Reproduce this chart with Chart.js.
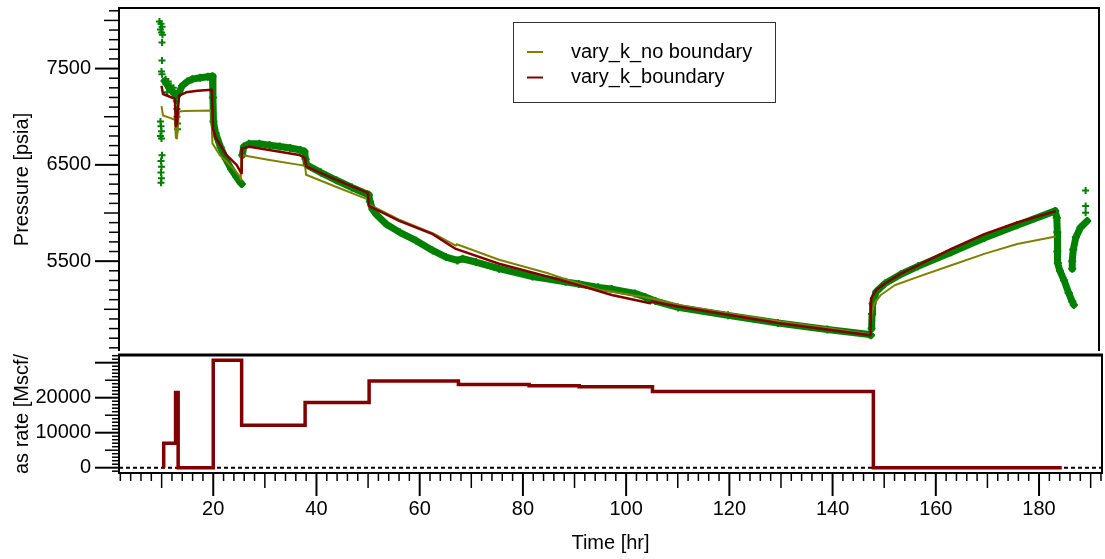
<!DOCTYPE html>
<html>
<head>
<meta charset="utf-8">
<script src="https://cdn.jsdelivr.net/npm/chart.js@4.4.1/dist/chart.umd.min.js"></script>
<style>
  html, body { margin: 0; padding: 0; background: #fff; }
  #wrap { position: relative; width: 1105px; height: 559px; overflow: hidden; }
  #top { position: absolute; left: 0; top: 0; }
  #bot { position: absolute; left: 0; top: 350px; }
</style>
</head>
<body>
<div id="wrap">
  <canvas id="top" width="1105" height="357"></canvas>
  <canvas id="bot" width="1105" height="209"></canvas>
</div>
<script>
// tick labels
const xTicks = [20, 40, 60, 80, 100, 120, 140, 160, 180];
const pressureTicks = [5500, 6500, 7500];
const rateTicks = [0, 10000, 20000];

// measured pressure, main trace (null = gap)
const measTime = [10.6, 11.0, 11.5, 12.0, 12.5, 12.8, 13.2, 14.0, 15.0, 16.0, 17.5, 19.0, 19.9, 20.0, 20.1, 20.5, 21.5, 22.5, 23.5, 24.5, 25.3, 25.6, null,
  25.7, 26.0, 27.0, 29.0, 31.0, 33.0, 35.0, 37.0, 37.8, 38.0, 38.2, 41.0, 44.0, 47.0, 50.0, 50.3, 50.5, 51.0, 51.7, 53.7, 56.3, 59.5, 62.7, 65.3, 67.5, 68.5, 71.1, 75.6,
  82.1, 88.5, 91.1, 94.9, 97.5, 102.0, 104.0, 106.0, 110.4, 120.1, 129.8, 139.4, 147.6, 147.9, null,
  148.0, 148.1, 148.2, 148.9, 150.6, 153.7, 157.0, 163.5, 169.9, 176.3, 183.7, 184.0, 184.1, 184.1, 184.2, 184.6, 185.4, 186.3, 187.0, 187.3, null,
  187.0, 187.0, 187.2, 187.7, 188.6, 189.9];
const measPres = [7370, 7340, 7300, 7270, 7240, 7215, 7225, 7320, 7365, 7390, 7405, 7415, 7420, 7200, 6950, 6830, 6680, 6560, 6460, 6380, 6320, 6300, null,
  6600, 6690, 6720, 6720, 6705, 6690, 6675, 6655, 6640, 6560, 6500, 6420, 6340, 6265, 6195, 6190, 6120, 6040, 5987, 5884, 5799, 5713, 5611, 5542, 5508, 5525, 5491, 5422,
  5340, 5285, 5262, 5228, 5210, 5165, 5128, 5085, 5020, 4937, 4857, 4790, 4738, 4730, null,
  4800, 4950, 5060, 5183, 5268, 5364, 5446, 5593, 5740, 5874, 6022, 5950, 5800, 5600, 5480, 5400, 5303, 5170, 5080, 5046, null,
  5420, 5500, 5620, 5747, 5850, 5918];

// measured pressure, loose points
const measDotTime = [9.6, 9.9, 10.1, 9.8, 10.0, 10.2, 10.1, 10.1, 10.0, 10.1, 9.8, 9.9, 10.0, 9.8, 10.0, 10.1, 9.9, 10.0, 9.9, 10.0, 9.9,
  10.8, 11.3, 11.1, 11.8, 12.3, 12.9, 13.0, 13.0, 13.1, 13.1, 189.6, 189.6, 189.6];
const measDotPres = [7990, 7965, 7935, 7905, 7875, 7850, 7770, 7585, 7470, 7440, 6950, 6900, 6850, 6800, 6775, 6600, 6540, 6480, 6420, 6360, 6315,
  7390, 7365, 7255, 7320, 7300, 7160, 7080, 7000, 6930, 6870, 6004, 6073, 6233];

// vary_k_no boundary
const noBndTime = [10.0, 10.3, 11.5, 12.6, 12.8, 13.0, 13.4, 14.5, 19.7, 19.9, 21.3, 23.9, 25.2, 25.4, 25.5, 31.0, 36.8, 37.9, 38.1, 44.0, 50.1, 50.3,
  56.2, 62.7, 67.2, 67.4, 75.6, 85.3, 91.1, 94.9, 105.2, 110.4, 120.1, 129.8, 139.4, 147.8, 148.0, 148.5, 149.8, 152.5, 157.0, 163.5, 169.9, 176.3, 183.8];
const noBndPres = [7110, 7013, 6990, 6969, 6780, 6774, 7054, 7060, 7065, 6723, 6603, 6466, 6381, 6346, 6603, 6550, 6500, 6490, 6397, 6270, 6141, 6090,
  5930, 5790, 5662, 5675, 5515, 5371, 5268, 5205, 5114, 5046, 4960, 4875, 4806, 4738, 4946, 5060, 5149, 5250, 5337, 5457, 5576, 5679, 5755];

// vary_k_boundary
const bndTime = [10.0, 10.3, 11.5, 12.6, 12.8, 13.0, 13.4, 14.8, 17.0, 19.8, 20.0, 20.6, 22.6, 24.6, 25.5, 25.6, 27.1, 36.8, 37.9, 38.1, 43.2, 50.1, 50.3,
  56.2, 62.7, 67.2, 75.6, 85.3, 91.1, 97.5, 105.0, 105.3, 110.4, 120.1, 129.8, 139.4, 147.8, 147.9, 148.9, 150.6, 153.7, 157.0, 163.5, 169.9, 176.3, 183.8];
const bndPres = [7321, 7236, 7210, 7185, 6900, 6920, 7219, 7254, 7270, 7280, 6877, 6774, 6603, 6500, 6415, 6671, 6689, 6603, 6569, 6484, 6363, 6209, 6073,
  5919, 5781, 5627, 5473, 5337, 5251, 5149, 5063, 5080, 5029, 4944, 4857, 4790, 4731, 5114, 5200, 5268, 5370, 5457, 5627, 5781, 5901, 6020];

// gas rate, each value holds until the next time
const rateTime = [10.4, 10.4, 12.7, 13.2, 20.0, 25.5, 37.8, 50.2, 67.5, 81.2, 90.9, 105.1, 147.9, 184.4];
const rateValue = [0, 7000, 21500, 0, 30700, 12100, 18600, 24800, 23800, 23400, 23100, 21800, 0, 0];

const FONT = 'Liberation Sans, Arial, sans-serif';
Chart.defaults.font.family = FONT;
Chart.defaults.font.size = 20;
Chart.defaults.color = '#000';

function zip(t, v) {
  return t.map((x, i) => ({ x: x, y: v[i] }));
}

// tick marks with three lengths, drawn outward from the frame
function tickMarks(ctx, scale, horizontal, edge, step, lenOf) {
  const start = Math.ceil(scale.min / step) * step;
  for (let v = start; v <= scale.max; v += step) {
    const len = lenOf(v);
    const p = scale.getPixelForValue(v);
    ctx.lineWidth = len >= 20 ? 2 : 1.5;
    ctx.beginPath();
    if (horizontal) {
      ctx.moveTo(p, edge);
      ctx.lineTo(p, edge + len);
    } else {
      ctx.moveTo(edge, p);
      ctx.lineTo(edge - len, p);
    }
    ctx.stroke();
  }
}

const topPlugin = {
  id: 'topPlugin',
  afterDraw(chart) {
    const { ctx, chartArea: a } = chart;
    ctx.save();
    ctx.strokeStyle = '#000';
    tickMarks(ctx, chart.scales.y, false, a.left, 100,
      v => (v % 1000 === 500 ? 24 : v % 1000 === 0 ? 15 : 10));
    ctx.lineWidth = 2;
    ctx.beginPath();
    ctx.moveTo(a.left, a.bottom);
    ctx.lineTo(a.left, a.top);
    ctx.lineTo(a.right, a.top);
    ctx.lineTo(a.right, a.bottom);
    ctx.stroke();

    // legend box
    const items = chart.data.datasets.filter(d => d.inKey);
    ctx.fillStyle = '#fff';
    ctx.fillRect(513.5, 22.5, 262, 80);
    ctx.lineWidth = 1;
    ctx.strokeStyle = '#333';
    ctx.strokeRect(513.5, 22.5, 262, 80);
    ctx.font = '20px ' + FONT;
    ctx.textBaseline = 'alphabetic';
    items.forEach((d, i) => {
      const y = 52 + i * 25.5;
      ctx.strokeStyle = d.borderColor;
      ctx.lineWidth = 2;
      ctx.beginPath();
      ctx.moveTo(527, y);
      ctx.lineTo(543, y);
      ctx.stroke();
      ctx.fillStyle = '#000';
      ctx.fillText(d.label, 571, y + 5.5);
    });
    ctx.restore();
  }
};

const botPlugin = {
  id: 'botPlugin',
  beforeDatasetsDraw(chart) {
    const { ctx, chartArea: a } = chart;
    const y0 = chart.scales.y.getPixelForValue(0);
    ctx.save();
    ctx.strokeStyle = '#000';
    ctx.lineWidth = 2;
    ctx.setLineDash([4, 3]);
    ctx.beginPath();
    ctx.moveTo(a.left, y0);
    ctx.lineTo(a.right, y0);
    ctx.stroke();
    ctx.restore();
  },
  afterDraw(chart) {
    const { ctx, chartArea: a } = chart;
    ctx.save();
    ctx.strokeStyle = '#000';
    tickMarks(ctx, chart.scales.y, false, a.left, 1000,
      v => (v % 10000 === 0 ? 24 : v % 5000 === 0 ? 14 : 7));
    tickMarks(ctx, chart.scales.x, true, a.bottom, 2,
      v => (v % 20 === 0 ? 23 : v % 10 === 0 ? 15 : 8));
    ctx.lineWidth = 2;
    ctx.strokeRect(a.left, a.top, a.right - a.left, a.bottom - a.top);
    ctx.lineWidth = 3;
    ctx.beginPath();
    ctx.moveTo(a.left - 1, a.top);
    ctx.lineTo(a.right + 1, a.top);
    ctx.stroke();
    ctx.restore();
  }
};

function fixWidth(s) {
  s.width = 119;
  s.paddingTop = 0;
  s.paddingBottom = 0;
}

const xMin = 1.74, xMax = 192.2;

new Chart(document.getElementById('top'), {
  type: 'line',
  data: {
    datasets: [
      {
        label: 'vary_k_no boundary', inKey: true, order: 2,
        data: zip(noBndTime, noBndPres),
        borderColor: '#808000', borderWidth: 2, pointRadius: 0,
        borderJoinStyle: 'round', tension: 0
      },
      {
        label: 'vary_k_boundary', inKey: true, order: 1,
        data: zip(bndTime, bndPres),
        borderColor: '#800000', borderWidth: 2.5, pointRadius: 0,
        borderJoinStyle: 'round', tension: 0
      },
      {
        label: 'measured', order: 3,
        data: zip(measTime, measPres),
        borderColor: '#008000', borderWidth: 7, borderJoinStyle: 'round', borderCapStyle: 'round',
        pointStyle: 'cross', pointRadius: 4, pointBorderWidth: 2,
        pointBorderColor: '#008000', spanGaps: false, tension: 0
      },
      {
        label: 'measured points', order: 4, showLine: false,
        data: zip(measDotTime, measDotPres),
        pointStyle: 'cross', pointRadius: 3.5, pointBorderWidth: 2,
        pointBorderColor: '#008000', borderColor: '#008000'
      }
    ]
  },
  options: {
    responsive: false,
    animation: false,
    events: [],
    layout: { padding: { top: 8, right: 3, bottom: 2, left: 0 } },
    plugins: { legend: { display: false }, tooltip: { enabled: false } },
    scales: {
      x: { type: 'linear', min: xMin, max: xMax, display: false },
      y: {
        type: 'linear', min: 4567, max: 8129,
        afterBuildTicks: s => { s.ticks = pressureTicks.map(v => ({ value: v })); },
        afterFit: fixWidth,
        grid: { display: false, drawTicks: true, tickLength: 24 },
        border: { display: false },
        ticks: { padding: 4, autoSkip: false, callback: v => String(v) },
        title: { display: true, text: 'Pressure [psia]', font: { size: 20 }, padding: { top: 10, bottom: 0 } }
      }
    }
  },
  plugins: [topPlugin]
});

new Chart(document.getElementById('bot'), {
  type: 'line',
  data: {
    datasets: [{
      label: 'Gas rate',
      data: zip(rateTime, rateValue),
      borderColor: '#800000', borderWidth: 3.5, pointRadius: 0,
      stepped: true, borderJoinStyle: 'miter'
    }]
  },
  options: {
    responsive: false,
    animation: false,
    events: [],
    layout: { padding: { top: 5, right: 3, bottom: 0, left: 0 } },
    plugins: { legend: { display: false }, tooltip: { enabled: false } },
    scales: {
      x: {
        type: 'linear', min: xMin, max: xMax,
        afterBuildTicks: s => { s.ticks = xTicks.map(v => ({ value: v })); },
        afterFit: s => { s.height = 86; s.paddingLeft = 0; s.paddingRight = 0; },
        grid: { display: false, drawTicks: true, tickLength: 24 },
        border: { display: false },
        ticks: { padding: 0, autoSkip: false, maxRotation: 0, callback: v => String(v) },
        title: { display: true, text: 'Time [hr]', font: { size: 20 }, padding: { top: 0, bottom: 4 } }
      },
      y: {
        type: 'linear', min: -1514, max: 32200,
        afterBuildTicks: s => { s.ticks = rateTicks.map(v => ({ value: v })); },
        afterFit: fixWidth,
        grid: { display: false, drawTicks: true, tickLength: 24 },
        border: { display: false },
        ticks: { padding: 4, autoSkip: false, callback: v => String(v) },
        title: { display: true, text: 'as rate [Mscf/', font: { size: 20 }, padding: { top: 10, bottom: 0 } }
      }
    }
  },
  plugins: [botPlugin]
});
</script>
</body>
</html>
